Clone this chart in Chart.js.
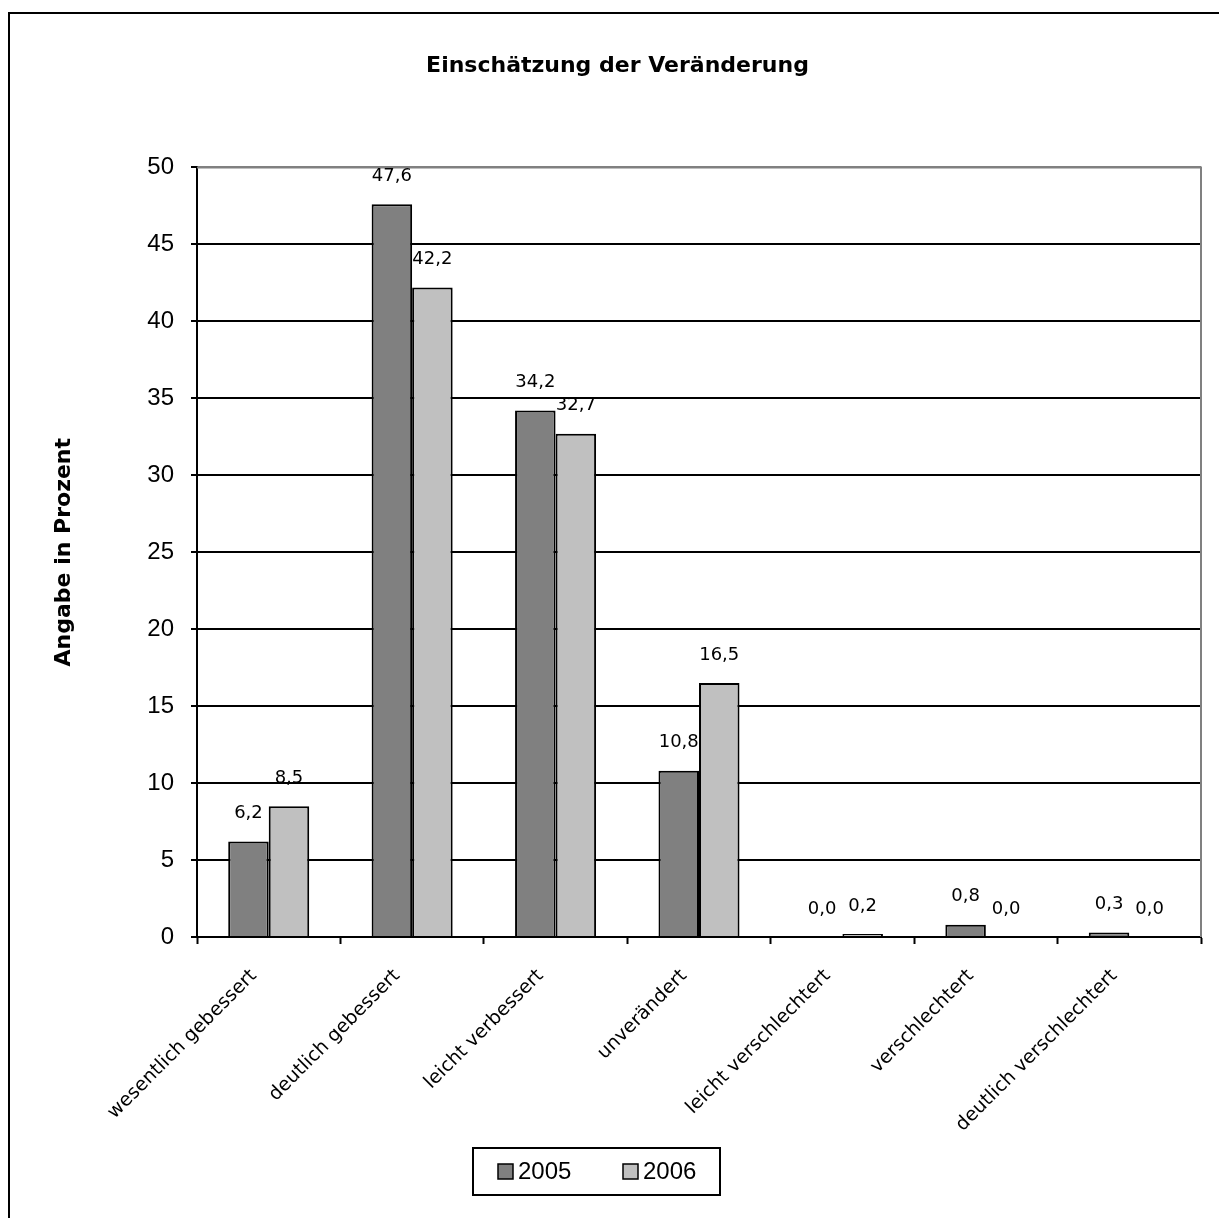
<!DOCTYPE html>
<html>
<head>
<meta charset="utf-8">
<script src="https://cdn.jsdelivr.net/npm/chart.js@4.4.0/dist/chart.umd.min.js"></script>
<style>
  html, body { margin: 0; padding: 0; background: #fff; }
  #wrap { width: 1219px; height: 1218px; }
</style>
</head>
<body>
<div id="wrap"><canvas id="chart"></canvas></div>
<script>
var kategorien = ["wesentlich gebessert", "deutlich gebessert", "leicht verbessert", "unverändert",
    "leicht verschlechtert", "verschlechtert", "deutlich verschlechtert"];
var werte2005 = [6.2, 47.6, 34.2, 10.8, 0.0, 0.8, 0.3];
var werte2006 = [8.5, 42.2, 32.7, 16.5, 0.2, 0.0, 0.0];
var jahre = ["2005", "2006"];
var farben = ["#808080", "#c0c0c0"];

function komma(v) {
    return v.toFixed(1).replace('.', ',');
}

// Rahmen, Wertbeschriftung und Legende selbst zeichnen
var deko = {
    id: 'deko',
    beforeDraw: function (chart) {
        var ctx = chart.ctx;
        ctx.save();
        ctx.fillStyle = '#fff';
        ctx.fillRect(0, 0, chart.width, chart.height);
        ctx.restore();
    },
    afterDatasetsDraw: function (chart) {
        var ctx = chart.ctx;
        var a = chart.chartArea;
        ctx.save();
        ctx.strokeStyle = '#808080';
        ctx.lineWidth = 2;
        ctx.beginPath();
        ctx.moveTo(a.left, a.top);
        ctx.lineTo(a.right, a.top);
        ctx.lineTo(a.right, a.bottom);
        ctx.stroke();

        ctx.fillStyle = '#000';
        ctx.font = '18px "DejaVu Sans"';
        ctx.textAlign = 'center';
        ctx.textBaseline = 'middle';
        chart.data.datasets.forEach(function (ds, i) {
            chart.getDatasetMeta(i).data.forEach(function (bar, j) {
                ctx.fillText(komma(ds.data[j]), bar.x, bar.y - 28);
            });
        });
        ctx.restore();
    },
    afterDraw: function (chart) {
        var ctx = chart.ctx;
        ctx.save();
        // aeusserer Rahmen
        ctx.strokeStyle = '#000';
        ctx.lineWidth = 2;
        ctx.beginPath();
        ctx.moveTo(9, chart.height);
        ctx.lineTo(9, 13);
        ctx.lineTo(chart.width, 13);
        ctx.stroke();

        // Legende
        ctx.lineWidth = 2;
        ctx.strokeRect(473, 1148, 247, 47);
        ctx.font = '24px "Liberation Sans", Arial';
        ctx.textBaseline = 'middle';
        ctx.textAlign = 'left';
        var x = [498, 623];
        chart.data.datasets.forEach(function (ds, i) {
            ctx.fillStyle = ds.backgroundColor;
            ctx.fillRect(x[i], 1164, 15, 15);
            ctx.lineWidth = 1.5;
            ctx.strokeStyle = '#000';
            ctx.strokeRect(x[i], 1164, 15, 15);
            ctx.fillStyle = '#000';
            ctx.fillText(ds.label, x[i] + 20, 1172);
        });
        ctx.restore();
    }
};

var chart = new Chart(document.getElementById('chart'), {
    type: 'bar',
    data: {
        labels: kategorien,
        datasets: [{
            label: jahre[0],
            data: werte2005,
            backgroundColor: farben[0],
            borderColor: '#000',
            borderWidth: 2
        }, {
            label: jahre[1],
            data: werte2006,
            backgroundColor: farben[1],
            borderColor: '#000',
            borderWidth: 2
        }]
    },
    options: {
        responsive: true,
        maintainAspectRatio: false,
        animation: false,
        layout: {
            padding: { left: 16, right: 0, top: 0, bottom: 0 }
        },
        datasets: {
            bar: {
                categoryPercentage: 0.565,
                barPercentage: 1
            }
        },
        plugins: {
            legend: { display: false },
            tooltip: { enabled: false },
            title: {
                display: true,
                text: 'Einschätzung der Veränderung',
                color: '#000',
                font: { family: '"DejaVu Sans"', size: 22, weight: 'bold', lineHeight: 1.2 },
                padding: { top: 53, bottom: 88 }
            }
        },
        scales: {
            x: {
                afterFit: function (s) { s.height = 281; },
                grid: {
                    drawOnChartArea: false,
                    offset: true,
                    tickLength: 7,
                    tickColor: '#000',
                    tickWidth: 2
                },
                border: { color: '#000', width: 2 },
                ticks: {
                    color: '#000',
                    minRotation: 45,
                    maxRotation: 45,
                    autoSkip: false,
                    padding: 21,
                    labelOffset: -15,
                    font: { family: '"DejaVu Sans"', size: 19 }
                }
            },
            y: {
                min: 0,
                max: 50,
                afterFit: function (s) { s.width = 181; },
                grid: {
                    color: function (c) { return c.tick && c.tick.value === 50 ? '#808080' : '#000'; },
                    lineWidth: 2,
                    tickLength: 6,
                    tickColor: '#000',
                    tickWidth: 2
                },
                border: { color: '#000', width: 2 },
                ticks: {
                    stepSize: 5,
                    color: '#000',
                    padding: 17,
                    font: { family: '"Liberation Sans", Arial', size: 24 }
                },
                title: {
                    display: true,
                    text: 'Angabe in Prozent',
                    color: '#000',
                    font: { family: '"DejaVu Sans"', size: 22, weight: 'bold', lineHeight: 1.2 },
                    padding: { top: 35, bottom: 0 }
                }
            },
            rand: {
                // leerer Platz rechts neben der Zeichenflaeche
                position: 'right',
                display: true,
                afterFit: function (s) { s.width = 18; },
                grid: { display: false },
                border: { display: false },
                ticks: { display: false }
            }
        }
    },
    plugins: [deko]
});
</script>
</body>
</html>
